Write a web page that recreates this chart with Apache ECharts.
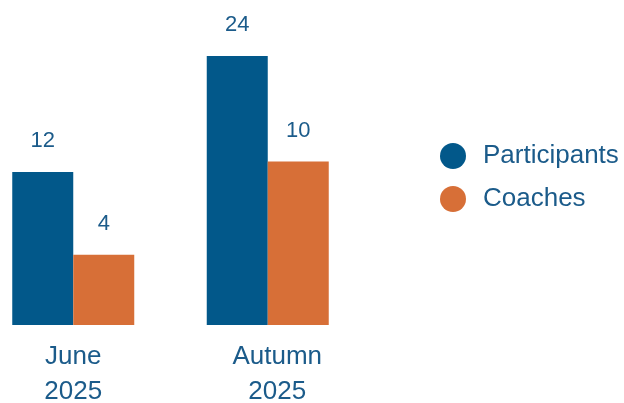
<!DOCTYPE html>
<html>
<head>
<meta charset="utf-8">
<script src="https://cdn.jsdelivr.net/npm/echarts@6/dist/echarts.min.js"></script>
<style>html,body{margin:0;padding:0;background:#fff;}#c{width:624px;height:403px;}</style>
</head>
<body>
<div id="c"></div>
<script>
const categories = ['June\n2025', 'Autumn\n2025'];
const seriesNames = ['Participants', 'Coaches'];
const participants = [12, 24];
const coaches = [4, 10];

const BLUE = '#02588a';
const ORANGE = '#d76f37';
const TEXT = '#1b5b8a';
const FONT = '"Liberation Sans", Arial, sans-serif';

const chart = echarts.init(document.getElementById('c'), null, {renderer: 'canvas'});
chart.setOption({
  animation: false,
  backgroundColor: '#fff',
  textStyle: {fontFamily: FONT},
  grid: {left: -24, width: 389, top: 56, bottom: 78, containLabel: false, outerBoundsMode: 'none'},
  legend: {
    orient: 'vertical', left: 435, top: 138,
    icon: 'circle', itemWidth: 26, itemHeight: 26, itemGap: 17,
    textStyle: {fontFamily: FONT, fontSize: 26, color: TEXT, padding: [0, 0, 0, 12]},
    data: seriesNames
  },
  xAxis: {
    type: 'category',
    data: categories.map((c, i) => i === 1 ? {value: c, textStyle: {padding: [0, 0, 0, 19]}} : c),
    axisLine: {show: false}, axisTick: {show: false}, splitLine: {show: false},
    axisLabel: {fontFamily: FONT, fontSize: 26, color: TEXT, lineHeight: 35, margin: 14}
  },
  yAxis: [
    {type: 'log', logBase: 10, min: 4.81, max: 24, show: false, splitLine: {show: false}},
    {type: 'log', logBase: 10, min: 2.0, max: 28.3, show: false, splitLine: {show: false}}
  ],
  series: [
    {
      name: seriesNames[0], type: 'bar', yAxisIndex: 0, data: participants, clip: true,
      barWidth: 61, barGap: '0%', itemStyle: {color: BLUE},
      label: {show: true, position: 'top', distance: 20, fontFamily: FONT, fontSize: 22, color: TEXT}
    },
    {
      name: seriesNames[1], type: 'bar', yAxisIndex: 1, data: coaches, clip: true,
      barWidth: 61, barGap: '0%', itemStyle: {color: ORANGE},
      label: {show: true, position: 'top', distance: 20, fontFamily: FONT, fontSize: 22, color: TEXT}
    }
  ]
});
</script>
</body>
</html>
